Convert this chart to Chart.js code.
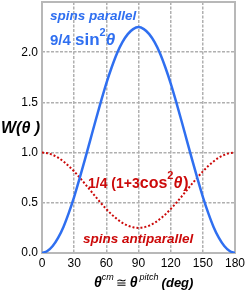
<!DOCTYPE html>
<html><head><meta charset="utf-8">
<script src="https://cdn.jsdelivr.net/npm/chart.js@4/dist/chart.umd.min.js"></script>
<style>html,body{margin:0;padding:0;background:#fff}#wrap{width:246px;height:293px}</style>
</head><body><div id="wrap"><canvas id="c" width="246" height="293"></canvas></div>
<script>
const angles = [0,5,10,15,20,25,30,35,40,45,50,55,60,65,70,75,80,85,90,95,100,105,110,115,120,125,130,135,140,145,150,155,160,165,170,175,180];
const parallel = [0,0.02,0.07,0.15,0.26,0.40,0.56,0.74,0.93,1.125,1.32,1.51,1.69,1.85,1.99,2.10,2.18,2.23,2.25,2.23,2.18,2.10,1.99,1.85,1.69,1.51,1.32,1.125,0.93,0.74,0.56,0.40,0.26,0.15,0.07,0.02,0];
const antiparallel = [1,0.994,0.977,0.95,0.912,0.866,0.8125,0.753,0.69,0.625,0.56,0.497,0.4375,0.384,0.338,0.30,0.273,0.256,0.25,0.256,0.273,0.30,0.338,0.384,0.4375,0.497,0.56,0.625,0.69,0.753,0.8125,0.866,0.912,0.95,0.977,0.994,1];
const xTicks = [0,30,60,90,120,150,180];
const yTicks = [0,0.5,1.0,1.5,2.0,2.5];
const BLUE = '#2f6ff0', RED = '#cc0a0a';
const FF = '"Liberation Sans", Arial, sans-serif';

const textPlugin = {
  id:'txt',
  afterDraw(chart){
    const ctx = chart.ctx; ctx.save();
    ctx.textBaseline = 'alphabetic'; ctx.textAlign='left';
    // Blue
    ctx.fillStyle = BLUE;
    ctx.font = 'italic bold 13.5px '+FF; ctx.fillText('spins parallel', 50, 20);
    let x = 50;
    ctx.font = 'bold 15px '+FF; ctx.fillText('9/4 ', x, 45); x += ctx.measureText('9/4 ').width;
    ctx.font = 'bold 17px '+FF; ctx.fillText('sin', x, 45); x += ctx.measureText('sin').width;
    ctx.font = 'bold 11px '+FF; ctx.fillText('2', x, 36); x += ctx.measureText('2').width;
    ctx.font = 'italic bold 17px '+FF; ctx.fillText('θ', x, 45);
    // Red
    ctx.fillStyle = RED;
    x = 88;
    ctx.font = 'bold 14px '+FF; ctx.fillText('1/4 (1+3', x, 188); x += ctx.measureText('1/4 (1+3').width;
    ctx.font = 'bold 16px '+FF; ctx.fillText('cos', x, 188); x += ctx.measureText('cos').width;
    ctx.font = 'bold 11px '+FF; ctx.fillText('2', x, 179); x += ctx.measureText('2').width;
    ctx.font = 'italic bold 16px '+FF; ctx.fillText('θ', x, 188); x += ctx.measureText('θ').width;
    ctx.font = 'bold 16px '+FF; ctx.fillText(')', x+1, 188);
    ctx.font = 'italic bold 13.5px '+FF; ctx.fillText('spins antiparallel', 83, 243);
    // Y title
    ctx.fillStyle = '#000';
    ctx.font = 'italic bold 16px '+FF; ctx.fillText('W(θ )', 1, 133);
    // X title
    x = 94;
    ctx.font = 'italic bold 14px '+FF; ctx.fillText('θ', x, 287); x += ctx.measureText('θ').width;
    ctx.font = 'italic 9px '+FF; ctx.fillText('cm', x, 280); x += ctx.measureText('cm').width + 2;
    ctx.font = '13px '+FF; ctx.fillText('≅', x, 287); x += ctx.measureText('≅').width + 3;
    ctx.font = 'italic bold 14px '+FF; ctx.fillText('θ', x, 287); x += ctx.measureText('θ').width + 2;
    ctx.font = 'italic 9px '+FF; ctx.fillText('pitch', x, 280); x += ctx.measureText('pitch').width + 3;
    ctx.font = 'italic bold 13px '+FF; ctx.fillText('(deg)', x, 287);
    ctx.restore();
  }
};

new Chart(document.getElementById('c'), {
  type:'line',
  data:{ datasets:[
    {data: angles.map((a,i)=>({x:a,y:parallel[i]})), borderColor:BLUE, borderWidth:2.5, pointRadius:0, cubicInterpolationMode:'monotone'},
    {data: angles.map((a,i)=>({x:a,y:antiparallel[i]})), borderColor:RED, borderWidth:2, borderDash:[2,2], pointRadius:0, cubicInterpolationMode:'monotone'}
  ]},
  options:{
    responsive:false, animation:false, events:[],
    layout:{padding:{top:2,right:11,left:0,bottom:0}},
    plugins:{legend:{display:false}, tooltip:{enabled:false}},
    scales:{
      x:{type:'linear', min:0, max:180,
        afterBuildTicks(s){ s.ticks = xTicks.map(v=>({value:v})); },
        afterFit(s){ s.height = 40; s.paddingLeft = 0; s.paddingRight = 0; },
        ticks:{color:'#000', font:{family:FF, size:12}, padding:3, callback:v=>String(v)},
        grid:{color:'#b0b0b0', lineWidth:1.5, drawTicks:false, tickLength:0},
        border:{display:false, dash:[3,1.5]},
      },
      y:{type:'linear', min:0, max:2.5,
        afterBuildTicks(s){ s.ticks = yTicks.map(v=>({value:v})); },
        afterFit(s){ s.width = 42; s.paddingTop = 0; s.paddingBottom = 0; },
        ticks:{color:'#000', font:{family:FF, size:12}, padding:4, callback:v=> v>=2.4 ? '' : v.toFixed(1)},
        grid:{color:'#b0b0b0', lineWidth:1.5, drawTicks:false, tickLength:0},
        border:{display:false, dash:[3,1.5]},
      }
    }
  },
  plugins:[textPlugin, {
    id:'frame',
    beforeDatasetsDraw(chart){
      const {ctx, chartArea:a} = chart; ctx.save();
      ctx.strokeStyle='#b8b8b8'; ctx.lineWidth=2;
      ctx.strokeRect(a.left, a.top, a.right-a.left, a.bottom-a.top);
      ctx.restore();
    }
  }]
});
</script></body></html>
